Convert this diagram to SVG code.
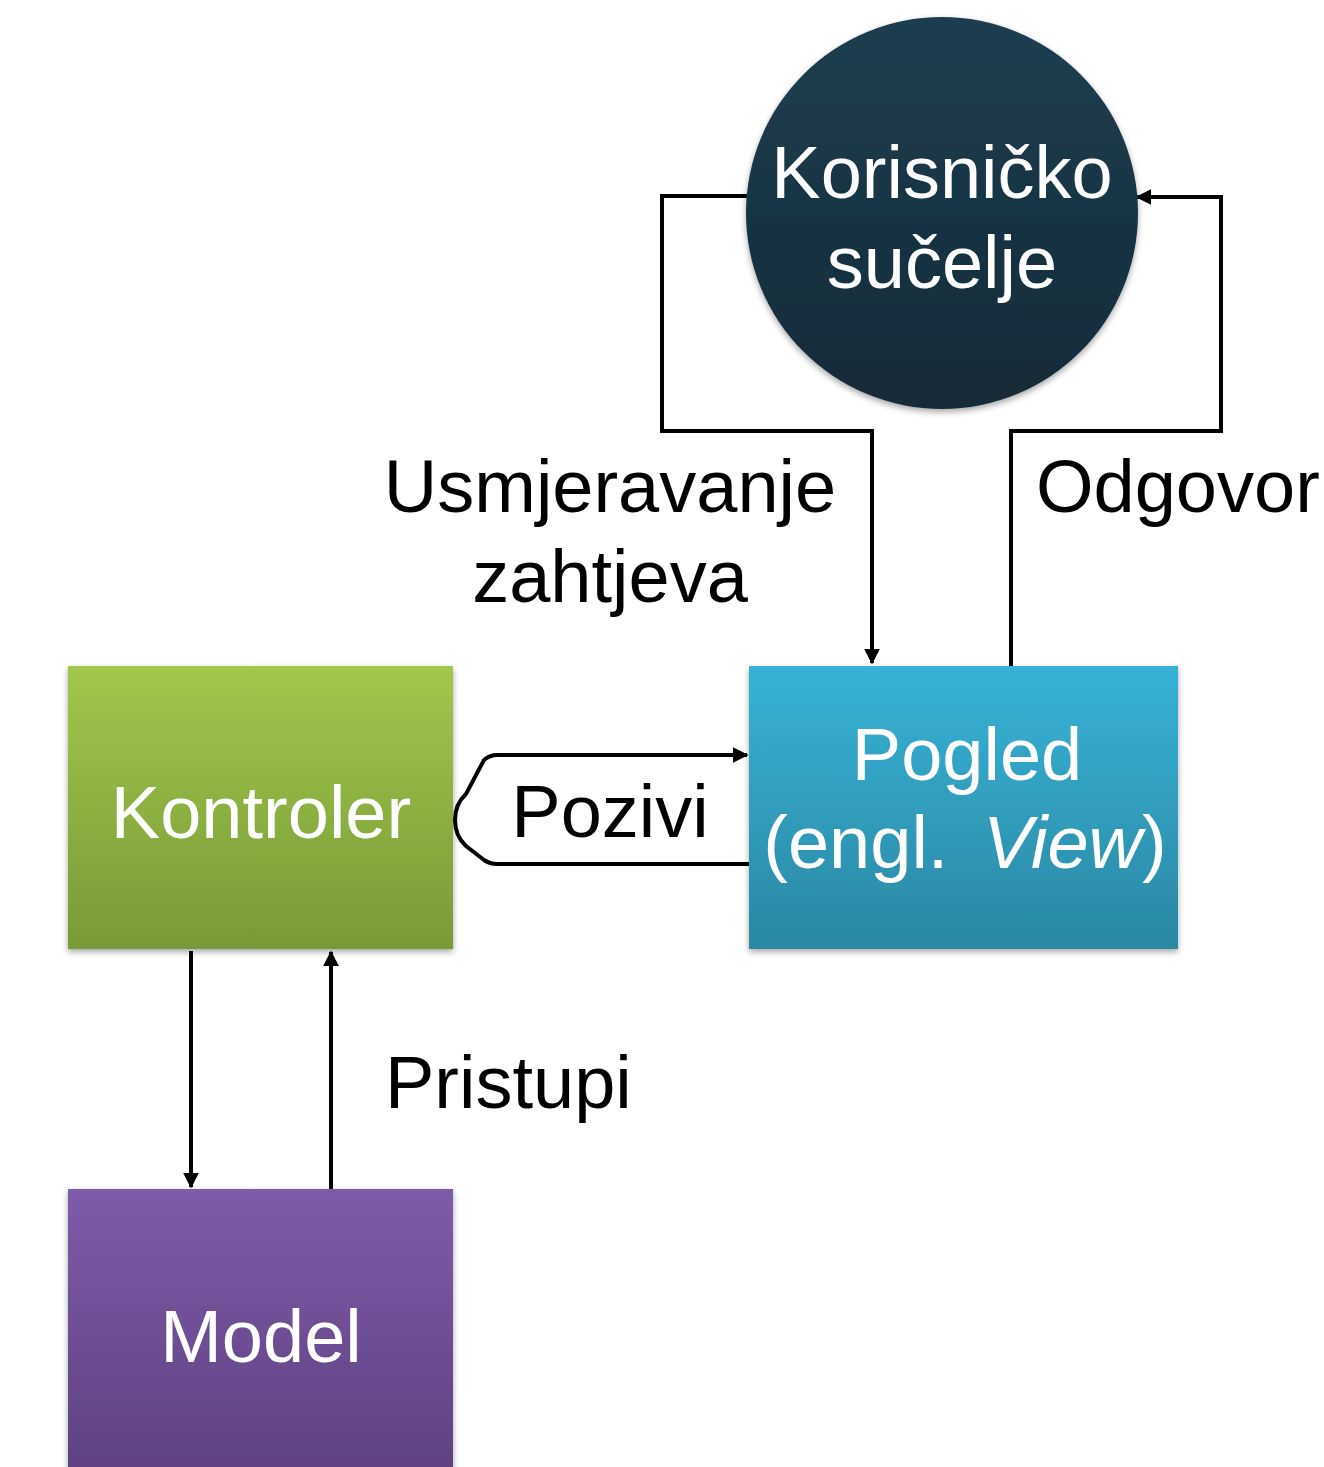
<svg xmlns="http://www.w3.org/2000/svg" width="1324" height="1467" viewBox="0 0 1324 1467">
<defs>
<linearGradient id="gCircle" x1="0" y1="0" x2="0" y2="1"><stop offset="0" stop-color="#1d3e50"/><stop offset="1" stop-color="#142a37"/></linearGradient>
<linearGradient id="gGreen" x1="0" y1="0" x2="0" y2="1"><stop offset="0" stop-color="#a1c74b"/><stop offset="1" stop-color="#789a38"/></linearGradient>
<linearGradient id="gBlue" x1="0" y1="0" x2="0" y2="1"><stop offset="0" stop-color="#37b2d7"/><stop offset="1" stop-color="#2a88a2"/></linearGradient>
<linearGradient id="gPurple" x1="0" y1="0" x2="0" y2="1"><stop offset="0" stop-color="#7d5ca9"/><stop offset="1" stop-color="#5e4180"/></linearGradient>
<filter id="sh" x="-10%" y="-10%" width="120%" height="120%"><feDropShadow dx="0" dy="3" stdDeviation="3" flood-color="#000" flood-opacity="0.35"/></filter>
<marker id="arr" viewBox="0 0 10 10" refX="9" refY="5" markerWidth="4" markerHeight="4" orient="auto" markerUnits="strokeWidth"><path d="M0,0 L10,5 L0,10 z" fill="#000"/></marker>
<style>
.lbl{font-family:"Liberation Sans",Arial,sans-serif;font-size:74px;fill:#000}
.wt{font-family:"Liberation Sans",Arial,sans-serif;font-size:74px;fill:#fff;text-anchor:middle}
.con{fill:none;stroke:#000;stroke-width:4}
</style>
</defs>
<g id="connectors">
<polyline class="con" points="750,196 662,196 662,431 872,431 872,663" marker-end="url(#arr)"/>
<polyline class="con" points="1011,666 1011,431 1221,431 1221,197 1137,197" marker-end="url(#arr)"/>
<path class="con" d="M749,864 L497,864 Q490,864 484,860 L466,846 Q455,836 455,820 Q455,804 466,794 L484,760 Q490,755 497,755 L747,755" marker-end="url(#arr)"/>
<line class="con" x1="191" y1="951" x2="191" y2="1187" marker-end="url(#arr)"/>
<line class="con" x1="331" y1="1189" x2="331" y2="952" marker-end="url(#arr)"/>
<text class="lbl" x="610" y="512" text-anchor="middle">Usmjeravanje</text>
<text class="lbl" x="610" y="602" text-anchor="middle">zahtjeva</text>
<text class="lbl" x="1036" y="512">Odgovor</text>
<text class="lbl" x="610" y="837" text-anchor="middle">Pozivi</text>
<text class="lbl" x="385" y="1108">Pristupi</text>
</g>
<g id="node-ui">
<circle cx="942" cy="213" r="196" fill="url(#gCircle)" filter="url(#sh)"/>
<text class="wt" x="942" y="198">Korisničko</text>
<text class="wt" x="942" y="288">sučelje</text>
</g>
<g id="node-kontroler">
<rect x="68" y="666" width="385" height="283" fill="url(#gGreen)" filter="url(#sh)"/>
<text class="wt" x="261" y="838">Kontroler</text>
</g>
<g id="node-pogled">
<rect x="749" y="666" width="429" height="283" fill="url(#gBlue)" filter="url(#sh)"/>
<text class="wt" x="967" y="780">Pogled</text>
<text class="wt" x="965" y="868">(engl. <tspan dx="14" font-style="italic">View</tspan>)</text>
</g>
<g id="node-model">
<rect x="68" y="1189" width="385" height="290" fill="url(#gPurple)" filter="url(#sh)"/>
<text class="wt" x="261" y="1362">Model</text>
</g>
</svg>
